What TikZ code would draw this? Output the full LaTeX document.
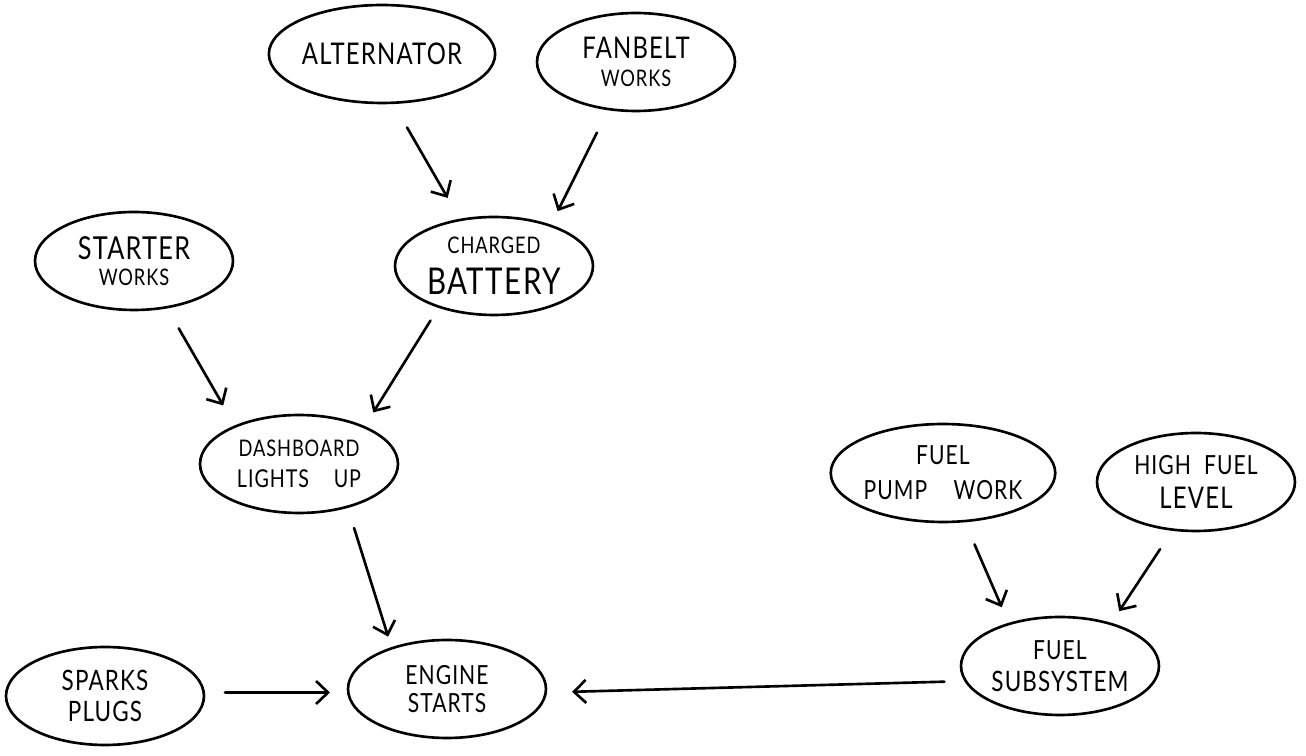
\documentclass[tikz,border=0pt]{standalone}
\usepackage{fontspec}
\setmainfont{Lato}[FakeStretch=0.8, LetterSpace=4]
\usetikzlibrary{shapes.geometric,arrows.meta}

\tikzset{
  event/.style={draw, ellipse, line width=1.5pt, minimum width=3.96cm,
    minimum height=1.96cm, inner sep=0pt, align=center},
  cause/.style={-{Straight Barb[length=2.4mm,width=4.6mm,line width=1.5pt]},
    line width=1.5pt, line cap=round},
}

\begin{document}
\begin{tikzpicture}[x=0.02cm, y=-0.02cm]
        \useasboundingbox (0,0) rectangle (1306,756);

        % Draw the events
        \node[event] (alt) at (382,54) {\fontsize{17}{20}\selectfont ALTERNATOR};
        \node[event] (fan) at (636,62) {{\fontsize{17}{20}\selectfont FANBELT}\\[4pt]{\fontsize{13}{16}\selectfont WORKS}};
        \node[event] (bat) at (494,266) {{\fontsize{13}{16}\selectfont CHARGED}\\[7pt]{\fontsize{21}{24}\selectfont BATTERY}};
        \node[event] (sta) at (134,261) {{\fontsize{18}{21}\selectfont STARTER}\\[3pt]{\fontsize{13}{16}\selectfont WORKS}};
        \node[event] (dash) at (299,464) {{\fontsize{13}{16}\selectfont DASHBOARD}\\[6pt]{\fontsize{14}{16}\selectfont LIGHTS\quad UP}};
        \node[event] (eng) at (447,689) {{\fontsize{15}{18}\selectfont ENGINE}\\[4pt]{\fontsize{15}{18}\selectfont STARTS}};
        \node[event] (spk) at (105,696) {{\fontsize{16}{19}\selectfont SPARKS}\\[6pt]{\fontsize{16}{19}\selectfont PLUGS}};
        \node[event] (pump) at (943,473) {{\fontsize{15}{18}\selectfont FUEL}\\[8pt]{\fontsize{15}{18}\selectfont PUMP\quad WORK}};
        \node[event] (high) at (1196,482) {{\fontsize{15}{18}\selectfont HIGH\enspace FUEL}\\[6pt]{\fontsize{17}{20}\selectfont LEVEL}};
        \node[event] (fsub) at (1060,666) {{\fontsize{15}{18}\selectfont FUEL}\\[6pt]{\fontsize{16}{19}\selectfont SUBSYSTEM}};

        % Draw the causal links
        \draw[cause, shorten <=0.54cm, shorten >=0.48cm] (alt.-77) -- (bat.126);
        \draw[cause, shorten <=0.50cm, shorten >=0.30cm] (fan.-120) -- (bat.36);
        \draw[cause, shorten <=0.46cm, shorten >=0.46cm] (sta.-55) -- (dash.149);
        \draw[cause, shorten <=0.30cm, shorten >=0.32cm] (bat.-143) -- (dash.30);
        \draw[cause, shorten <=0.42cm, shorten >=0.22cm] (dash.-42) -- (eng.143);
        \draw[cause, shorten <=0.40cm, shorten >=0.34cm] (spk.2) -- (eng.182);
        \draw[cause, shorten <=0.40cm, shorten >=0.50cm] (fsub.-171) -- (eng.-2);
        \draw[cause, shorten <=0.48cm, shorten >=0.34cm] (pump.-66) -- (fsub.140);
        \draw[cause, shorten <=0.44cm, shorten >=0.28cm] (high.-116) -- (fsub.40);
    \end{tikzpicture}
\end{document}
